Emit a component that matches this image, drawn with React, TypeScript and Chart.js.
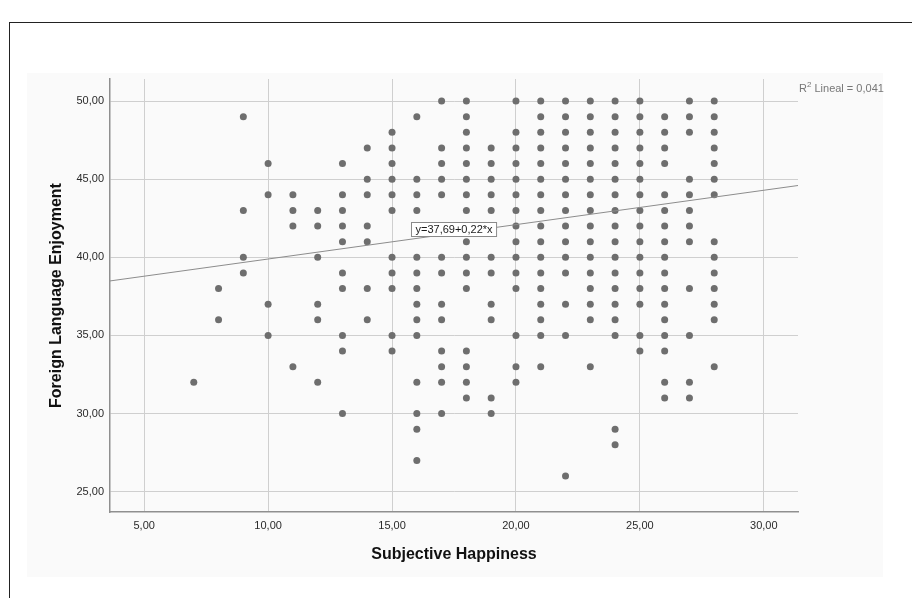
import { useEffect, useRef } from "react";
import { Chart, registerables } from "chart.js";

Chart.register(...registerables);

// Subjective Happiness scores (x) and the Foreign Language Enjoyment values observed at each score (y)
const happinessScores = [7, 8, 9, 10, 11, 12, 13, 14, 15, 16, 17, 18, 19, 20, 21, 22, 23, 24, 25, 26, 27, 28];
const enjoymentByScore: number[][] = [
  [32],
  [38, 36],
  [49, 43, 40, 39],
  [46, 44, 37, 35],
  [44, 43, 42, 33],
  [43, 42, 40, 37, 36, 32],
  [46, 44, 43, 42, 41, 39, 38, 35, 34, 30],
  [47, 45, 44, 42, 41, 38, 36],
  [48, 47, 46, 45, 44, 43, 40, 39, 38, 35, 34],
  [49, 45, 44, 43, 42, 40, 39, 38, 37, 36, 35, 32, 30, 29, 27],
  [50, 47, 46, 45, 44, 42, 40, 39, 37, 36, 34, 33, 32, 30],
  [50, 49, 48, 47, 46, 45, 44, 43, 42, 41, 40, 39, 38, 34, 33, 32, 31],
  [47, 46, 45, 44, 43, 42, 40, 39, 37, 36, 31, 30],
  [50, 48, 47, 46, 45, 44, 43, 42, 41, 40, 39, 38, 35, 33, 32],
  [50, 49, 48, 47, 46, 45, 44, 43, 42, 41, 40, 39, 38, 37, 36, 35, 33],
  [50, 49, 48, 47, 46, 45, 44, 43, 42, 41, 40, 39, 37, 35, 26],
  [50, 49, 48, 47, 46, 45, 44, 43, 42, 41, 40, 39, 38, 37, 36, 33],
  [50, 49, 48, 47, 46, 45, 44, 43, 42, 41, 40, 39, 38, 37, 36, 35, 29, 28],
  [50, 49, 48, 47, 46, 45, 44, 43, 42, 41, 40, 39, 38, 37, 35, 34],
  [49, 48, 47, 46, 44, 43, 42, 41, 40, 39, 38, 37, 36, 35, 34, 32, 31],
  [50, 49, 48, 45, 44, 43, 42, 41, 38, 35, 32, 31],
  [50, 49, 48, 47, 46, 45, 44, 41, 40, 39, 38, 37, 36, 33],
];

const xTicks = [5, 10, 15, 20, 25, 30];
const yTicks = [25, 30, 35, 40, 45, 50];
const xRange = [3.62, 31.38];
const yRange = [23.7, 51.41];

const fitIntercept = 37.69;
const fitSlope = 0.22;
const fitLabel = "y=37,69+0,22*x";
const fitLabelAt = [17.5, 41.8];
const r2Parts = ["R", "2", " Lineal = 0,041"];

const xTitle = "Subjective Happiness";
const yTitle = "Foreign Language Enjoyment";

const FONT = '"Liberation Sans", Arial, sans-serif';

const fmt = (v: number) => v.toFixed(2).replace(".", ",");

const annotations = {
  id: "spssAnnotations",
  afterDatasetsDraw(chart: any) {
    const { ctx, scales, chartArea } = chart;
    const xs = scales.x;
    const ys = scales.y;
    ctx.save();
    // equation box
    ctx.font = `11px ${FONT}`;
    const px = xs.getPixelForValue(fitLabelAt[0]);
    const py = ys.getPixelForValue(fitLabelAt[1]);
    const tw = ctx.measureText(fitLabel).width;
    const bw = tw + 8;
    const bh = 14;
    const bx = Math.round(px - bw / 2) + 0.5;
    const by = Math.round(py - bh / 2) + 0.5;
    ctx.fillStyle = "#ffffff";
    ctx.fillRect(bx, by, bw, bh);
    ctx.strokeStyle = "#8a8a8a";
    ctx.lineWidth = 1;
    ctx.strokeRect(bx, by, bw, bh);
    ctx.fillStyle = "#1a1a1a";
    ctx.textAlign = "center";
    ctx.textBaseline = "middle";
    ctx.fillText(fitLabel, px, py + 0.5);

    // R² label
    const rx = chartArea.right + 1;
    const ry = chartArea.top + 9.5;
    ctx.textAlign = "left";
    ctx.fillStyle = "#777777";
    ctx.font = `11px ${FONT}`;
    ctx.fillText(r2Parts[0], rx, ry);
    let cx = rx + ctx.measureText(r2Parts[0]).width;
    ctx.font = `8px ${FONT}`;
    ctx.fillText(r2Parts[1], cx, ry - 4);
    cx += ctx.measureText(r2Parts[1]).width;
    ctx.font = `11px ${FONT}`;
    ctx.fillText(r2Parts[2], cx, ry);
    ctx.restore();
  },
};

export default function App() {
  const canvasRef = useRef<HTMLCanvasElement | null>(null);

  useEffect(() => {
    if (!canvasRef.current) return;
    const points: { x: number; y: number }[] = [];
    happinessScores.forEach((s, i) => {
      enjoymentByScore[i].forEach((v) => points.push({ x: s, y: v }));
    });
    const fitLine = xRange.map((x) => ({ x, y: fitIntercept + fitSlope * x }));

    const chart = new Chart(canvasRef.current, {
      type: "scatter",
      data: {
        datasets: [
          {
            type: "line",
            data: fitLine,
            borderColor: "#8c8c8c",
            borderWidth: 1,
            pointRadius: 0,
            fill: false,
          } as any,
          {
            data: points,
            backgroundColor: "#6e6e6e",
            borderWidth: 0,
            pointRadius: 3.5,
            pointHoverRadius: 3.5,
          },
        ],
      },
      options: {
        animation: false,
        responsive: false,
        events: [],
        layout: { padding: { left: 0, top: 79, right: 114, bottom: 0 } },
        plugins: {
          legend: { display: false },
          tooltip: { enabled: false },
        },
        scales: {
          x: {
            type: "linear",
            min: xRange[0],
            max: xRange[1],
            afterBuildTicks: (s: any) => {
              s.ticks = xTicks.map((v) => ({ value: v }));
            },
            afterFit: (s: any) => {
              s.height = 86;
            },
            grid: { color: "#cfcfcf", lineWidth: 1, drawTicks: false },
            border: { color: "#8f8f8f", width: 1.5 },
            ticks: {
              padding: 7,
              color: "#2a2a2a",
              font: { family: FONT, size: 11 },
              maxRotation: 0,
              autoSkip: false,
              callback: (v: any) => fmt(Number(v)),
            },
            title: {
              display: true,
              text: xTitle,
              color: "#111111",
              font: { family: FONT, size: 16, weight: "bold" },
              padding: { top: 0, bottom: 33.4 },
            },
          },
          y: {
            type: "linear",
            min: yRange[0],
            max: yRange[1],
            afterBuildTicks: (s: any) => {
              s.ticks = yTicks.map((v) => ({ value: v }));
            },
            afterFit: (s: any) => {
              s.width = 110;
            },
            grid: { color: "#cfcfcf", lineWidth: 1, drawTicks: false },
            border: { color: "#8f8f8f", width: 1.5 },
            ticks: {
              padding: 6,
              color: "#2a2a2a",
              font: { family: FONT, size: 11 },
              autoSkip: false,
              callback: (v: any) => fmt(Number(v)),
            },
            title: {
              display: true,
              text: yTitle,
              color: "#111111",
              font: { family: FONT, size: 16, weight: "bold" },
              padding: { top: 47.4, bottom: 0 },
            },
          },
        },
      },
      plugins: [annotations],
    });
    return () => chart.destroy();
  }, []);

  return (
    <div
      style={{
        position: "fixed",
        left: 0,
        top: 0,
        width: 912,
        height: 598,
        background: "#ffffff",
        overflow: "hidden",
      }}
    >
      <div
        style={{
          position: "absolute",
          left: 9,
          top: 22,
          width: 920,
          height: 600,
          borderLeft: "1px solid #222",
          borderTop: "1px solid #222",
        }}
      />
      <div
        style={{
          position: "absolute",
          left: 27,
          top: 73,
          width: 856,
          height: 504,
          background: "#fafafa",
        }}
      />
      <canvas
        ref={canvasRef}
        width={912}
        height={598}
        style={{ position: "absolute", left: 0, top: 0, width: 912, height: 598 }}
      />
    </div>
  );
}
